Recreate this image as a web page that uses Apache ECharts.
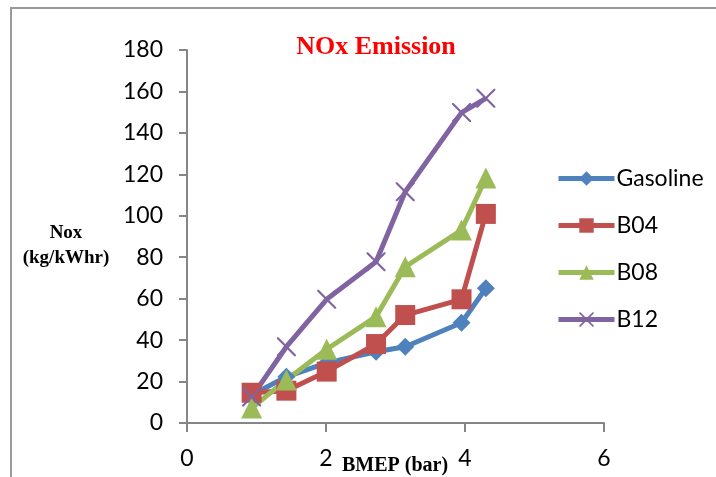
<!DOCTYPE html>
<html>
<head>
<meta charset="utf-8">
<script src="https://cdn.jsdelivr.net/npm/echarts@6/dist/echarts.min.js"></script>
<style>
  html, body { margin: 0; padding: 0; background: #fff; }
  #chart { width: 716px; height: 477px; }
</style>
</head>
<body>
<div id="chart"></div>
<script>
const bmep = [0.93, 1.43, 2.01, 2.72, 3.14, 3.95, 4.3];
const gasoline = [13.5, 22.3, 29, 34.4, 36.8, 48.4, 65];
const b04 = [14.6, 15.6, 24.8, 38.1, 52.1, 59.7, 100.9];
const b08 = [7.2, 20.8, 35.6, 51.3, 75.4, 93.1, 118.2];
const b12 = [12.5, 36.8, 59.7, 77.8, 111.6, 149.8, 156.7];

const colors = {
  Gasoline: '#4F81BD',
  B04: '#C0504D',
  B08: '#9BBB59',
  B12: '#8064A2'
};

const crossPath = 'path://M0,0 L1.6,0 L10,8.4 L18.4,0 L20,0 L20,1.6 L11.6,10 L20,18.4 L20,20 L18.4,20 L10,11.6 L1.6,20 L0,20 L0,18.4 L8.4,10 L0,1.6 Z';

const pairs = ys => ys.map((y, i) => [bmep[i], y]);

const makeSeries = (name, ys, symbol, size) => ({
  name,
  type: 'line',
  data: pairs(ys),
  symbol,
  symbolSize: size,
  showAllSymbol: true,
  lineStyle: { color: colors[name], width: 5 },
  itemStyle: { color: colors[name] },
  emphasis: { disabled: true },
  animation: false
});

const chart = echarts.init(document.getElementById('chart'));

chart.setOption({
  animation: false,
  grid: { left: 187, right: 112, top: 50, bottom: 54 },
  title: {
    text: 'NOx Emission',
    left: 371,
    top: 29,
    textAlign: 'center',
    textStyle: {
      color: '#FF0000',
      fontFamily: 'Liberation Serif',
      fontWeight: 'bold',
      fontSize: 26
    }
  },
  legend: {
    orient: 'vertical',
    left: 551,
    top: 161,
    itemWidth: 56,
    itemHeight: 18,
    itemGap: 22,
    data: ['Gasoline', 'B04', 'B08', 'B12'],
    lineStyle: { width: 5 },
    textStyle: {
      fontFamily: 'Lato',
      fontSize: 23,
      color: '#000',
      lineHeight: 25,
      padding: [0, 0, 0, -3]
    }
  },
  xAxis: {
    type: 'value',
    min: 0,
    max: 6,
    interval: 2,
    axisLine: { lineStyle: { color: '#868686', width: 2 } },
    axisTick: { show: true, length: 9, lineStyle: { color: '#868686', width: 2 } },
    splitLine: { show: false },
    axisLabel: {
      margin: 24,
      fontFamily: 'Lato',
      fontSize: 23,
      color: '#000'
    }
  },
  yAxis: {
    type: 'value',
    min: 0,
    max: 180,
    interval: 20,
    axisLine: { show: true, lineStyle: { color: '#868686', width: 2 } },
    axisTick: { show: true, length: 8, lineStyle: { color: '#868686', width: 2 } },
    splitLine: { show: false },
    axisLabel: {
      margin: 24,
      fontFamily: 'Lato',
      fontSize: 23,
      color: '#000'
    }
  },
  graphic: [
    {
      type: 'rect',
      silent: true,
      shape: { x: 11, y: 8, width: 760, height: 520 },
      style: { fill: 'none', stroke: '#9a9a9a', lineWidth: 2 }
    },
    {
      type: 'text',
      silent: true,
      style: {
        text: 'Nox\n(kg/kWhr)',
        x: 66,
        y: 221,
        textAlign: 'center',
        fontFamily: 'Liberation Serif',
        fontWeight: 'bold',
        fontSize: 19,
        lineHeight: 25,
        fill: '#000'
      }
    },
    {
      type: 'text',
      silent: true,
      style: {
        text: 'BMEP (bar)',
        x: 342,
        y: 456,
        fontFamily: 'Liberation Serif',
        fontWeight: 'bold',
        fontSize: 20,
        fill: '#000'
      }
    }
  ],
  series: [
    makeSeries('Gasoline', gasoline, 'diamond', 18),
    makeSeries('B04', b04, 'rect', 20),
    makeSeries('B08', b08, 'triangle', 21),
    makeSeries('B12', b12, crossPath, 19)
  ]
});
</script>
</body>
</html>
